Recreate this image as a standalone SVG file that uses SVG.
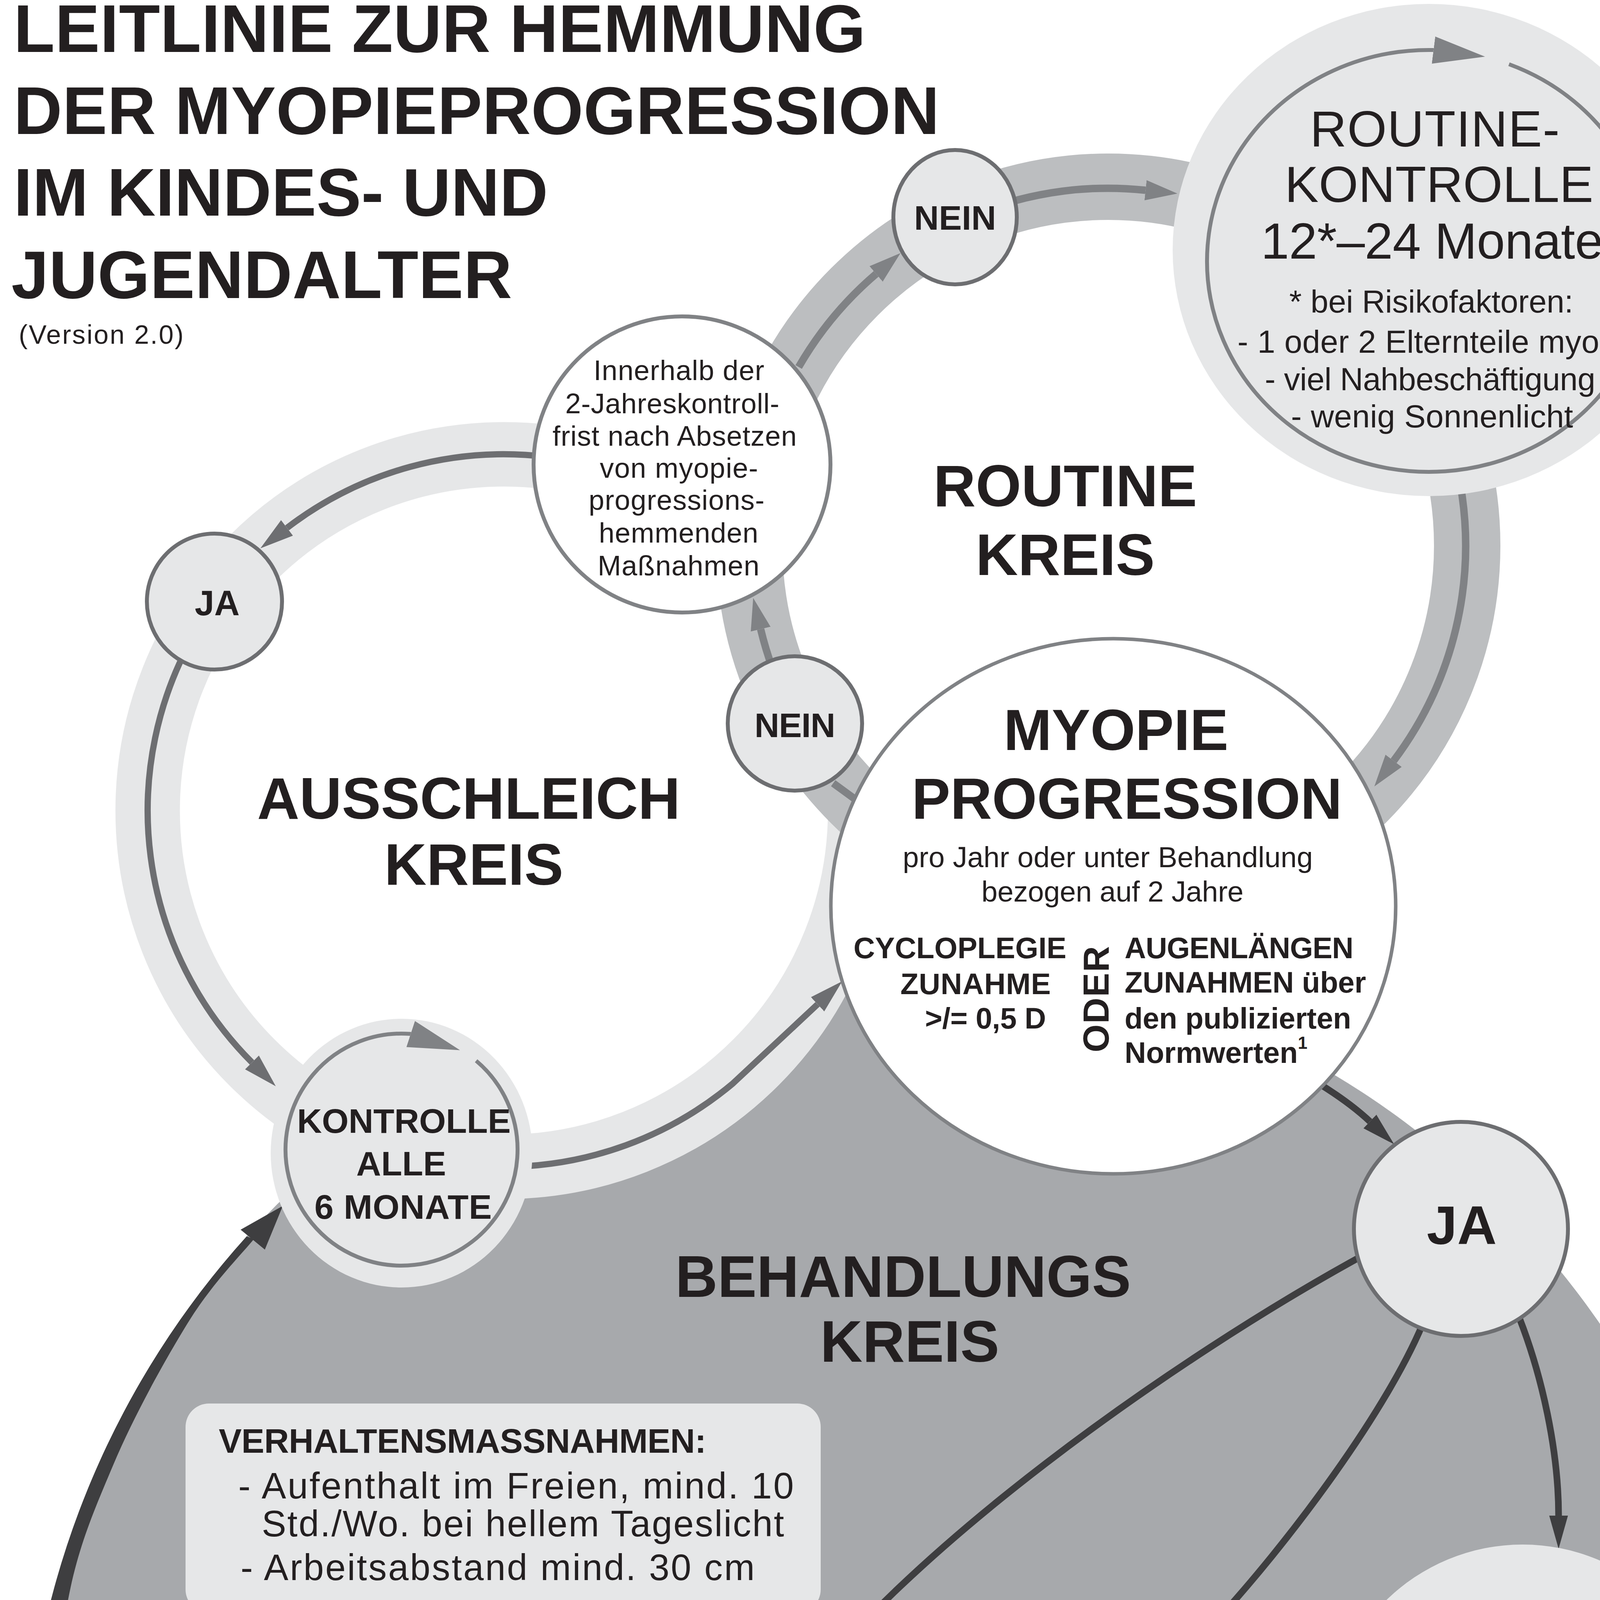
<svg xmlns="http://www.w3.org/2000/svg" width="4507" height="5896" viewBox="0 0 4507 5896">
<defs>
<style>
text{font-family:"Liberation Sans",Arial,Helvetica,sans-serif;fill:#231f20}
.b{font-weight:bold}
.m{text-anchor:middle}
.ttl{font-size:172px;font-weight:bold}
.kr{font-size:150px;font-weight:bold;text-anchor:middle}
.lt{fill:#e6e7e8}
.nd{fill:#e6e7e8;stroke:#6d6e71;stroke-width:10}
.wc{fill:#fff;stroke:#808285;stroke-width:10}
.rl{fill:none;stroke:#808285;stroke-width:19}
.al{fill:none;stroke:#6d6e71;stroke-width:16}
.tl{fill:none;stroke:#3e3e40;stroke-width:17}
.sl{fill:none;stroke:#3e3e40;stroke-width:14}
.il{fill:none;stroke:#808285;stroke-width:10}
.wt{fill:#fff}
</style>
<marker id="hR" markerUnits="userSpaceOnUse" viewBox="0 -30 90 60" markerWidth="90" markerHeight="60" refX="0" refY="0" orient="auto"><path d="M0,-26 L82,0 L0,26 Z" fill="#808285"/></marker>
<marker id="hA" markerUnits="userSpaceOnUse" viewBox="0 -30 90 60" markerWidth="90" markerHeight="60" refX="0" refY="0" orient="auto"><path d="M0,-25 L86,0 L0,25 Z" fill="#6d6e71"/></marker>
<marker id="hK" markerUnits="userSpaceOnUse" viewBox="0 -30 90 60" markerWidth="90" markerHeight="60" refX="0" refY="0" orient="auto"><path d="M0,-24 L85,0 L0,24 Z" fill="#3e3e40"/></marker>
<marker id="hB" markerUnits="userSpaceOnUse" viewBox="0 -40 140 80" markerWidth="140" markerHeight="80" refX="0" refY="0" orient="auto"><path d="M0,-35 L133,0 L0,35 Z" fill="#808285"/></marker>
</defs>

<rect width="4507" height="5896" fill="#fff"/>

<g id="background">
<path d="M0,5760 C150,5830 300,5855 460,5862 L4300,5862 C4420,5850 4480,5790 4507,5735 L4507,5896 L0,5896 Z" fill="#f1f1f2"/>
<circle id="behandlungs-area" cx="2275" cy="4650" r="2215" fill="#a7a9ac"/>
</g>

<g id="rings">
<circle id="ausschleich-ring" cx="1290" cy="2075" r="912" fill="#fff" stroke="#e6e7e8" stroke-width="165"/>
<circle id="routine-ring" cx="2837" cy="1397" r="919" fill="#fff" stroke="#bcbec0" stroke-width="170"/>
</g>

<g id="connectors">
<path class="rl" d="M2584.8,517.4 A915,915 0 0 1 2932.6,487.0" marker-end="url(#hR)"/>
<path class="rl" d="M3738.1,1238.1 A915,915 0 0 1 3567.7,1947.7" marker-end="url(#hR)"/>
<path class="rl" d="M1977.2,1709.9 A915,915 0 0 1 1947.3,1610.6" marker-end="url(#hR)"/>
<path class="rl" d="M2044.6,939.5 A915,915 0 0 1 2242.8,701.2" marker-end="url(#hR)"/>
<path class="rl" d="M2133,2005 L2196,2051"/>
<path class="al" d="M1401.2,1169.8 A912,912 0 0 0 734.8,1351.4" marker-end="url(#hA)"/>
<path class="al" d="M500.2,1619 A912,912 0 0 0 645.1,2719.9" marker-end="url(#hA)"/>
<path class="al" d="M1290,2987 A912,912 0 0 0 1876.2,2773.6 L2093,2571" marker-end="url(#hA)"/>
<path class="tl" d="M3370,2770 Q3455,2822 3507,2871" marker-end="url(#hK)"/>
<path class="tl" d="M3500,3208 C3000,3480 2300,3980 2020,4380" marker-end="url(#hK)"/>
<path class="tl" d="M3650,3370 C3560,3600 3300,3950 3095,4170" marker-end="url(#hK)"/>
<path class="tl" d="M3880,3350 C3950,3520 3990,3720 3990,3880" marker-end="url(#hK)"/>
<path class="sl" d="M1400,5220 L1350,5304" marker-end="url(#hK)"/>
<path class="sl" d="M2570,5130 L2436,5309" marker-end="url(#hK)"/>
<path class="sl" d="M3915,4925 L3767,5298" marker-end="url(#hK)"/>
<path class="sl" d="M1215,5540 L1175,5614" marker-end="url(#hK)"/>
<path class="sl" d="M2265,5540 L2184,5627" marker-end="url(#hK)"/>
<path class="sl" d="M3615,5540 L3535,5627" marker-end="url(#hK)"/>
<path id="behandlung-return" d="M444,5896 A2215,2215 0 0 1 631.5,3165 L650,3172 C622.5,3206.7 545,3283.7 485,3380 C425,3476.3 342.8,3624.8 290,3750 C237.2,3875.2 193.7,3973.5 168,4131 C142.3,4288.5 121.5,4507.2 136,4695 C150.5,4882.8 198.7,5092.3 255,5258 C311.3,5423.7 416.5,5582.7 474,5689 C531.5,5795.3 579,5861.5 600,5896 Z" fill="#3e3e40"/>
<polygon points="724,3087 616,3148 678,3199" fill="#3e3e40"/>
</g>

<g id="nodes">
<g id="routine-kontrolle">
<ellipse cx="3658" cy="640" rx="656" ry="630" class="lt"/>
<path class="il" d="M3863,164.4 A568,540 0 1 1 3668.8,128.1 l0.992,0.127" marker-end="url(#hB)"/>
<text class="m" x="3673" y="375" font-size="130" textLength="639">ROUTINE-</text>
<text class="m" x="3684" y="517" font-size="130" textLength="790">KONTROLLE</text>
<text class="m" x="3666" y="662" font-size="130" textLength="876">12*–24 Monate</text>
<text class="m" x="3664" y="800" font-size="82" textLength="727">* bei Risikofaktoren:</text>
<text class="m" x="3654" y="903" font-size="82" textLength="972">- 1 oder 2 Elternteile myop</text>
<text class="m" x="3661" y="999" font-size="82" textLength="846">- viel Nahbeschäftigung</text>
<text class="m" x="3666" y="1094" font-size="82" textLength="722">- wenig Sonnenlicht</text>
</g>
<g id="nein-oben">
<ellipse cx="2445" cy="556" rx="158" ry="172" class="nd"/>
<text class="b m" x="2445" y="588" font-size="88" textLength="210">NEIN</text>
</g>
<g id="innerhalb">
<ellipse cx="1746" cy="1189" rx="380" ry="379" class="wc"/>
<text class="m" x="1738" y="973" font-size="72" textLength="437">Innerhalb der</text>
<text class="m" x="1721" y="1058" font-size="72" textLength="548">2-Jahreskontroll-</text>
<text class="m" x="1727" y="1141" font-size="72" textLength="625">frist nach Absetzen</text>
<text class="m" x="1738" y="1223" font-size="72" textLength="405">von myopie-</text>
<text class="m" x="1732" y="1305" font-size="72" textLength="450">progressions-</text>
<text class="m" x="1737" y="1389" font-size="72" textLength="408">hemmenden</text>
<text class="m" x="1737" y="1473" font-size="72" textLength="414">Maßnahmen</text>
</g>
<g id="ja-links">
<ellipse cx="549" cy="1540" rx="173" ry="174" class="nd"/>
<text class="b m" x="556" y="1575" font-size="90">JA</text>
</g>
<g id="nein-unten">
<ellipse cx="2035" cy="1852" rx="172" ry="172" class="nd"/>
<text class="b m" x="2035" y="1887" font-size="88" textLength="207">NEIN</text>
</g>
<g id="myopie-progression">
<ellipse cx="2850" cy="2320" rx="723" ry="685" fill="#fff" stroke="#808285" stroke-width="9"/>
<text class="b m" x="2857" y="1920" font-size="148">MYOPIE</text>
<text class="b m" x="2885" y="2096" font-size="148" textLength="1102">PROGRESSION</text>
<text class="m" x="2836" y="2220" font-size="74" textLength="1050">pro Jahr oder unter Behandlung</text>
<text class="m" x="2848" y="2308" font-size="74" textLength="671">bezogen auf 2 Jahre</text>
<text class="b" x="2185" y="2453" font-size="76" textLength="545">CYCLOPLEGIE</text>
<text class="b" x="2305" y="2545" font-size="76" textLength="385">ZUNAHME</text>
<text class="b" x="2368" y="2633" font-size="76" textLength="310">&gt;/= 0,5 D</text>
<text class="b m" font-size="92" transform="translate(2838,2558) rotate(-90)" textLength="272">ODER</text>
<text class="b" x="2879" y="2453" font-size="76" textLength="586">AUGENLÄNGEN</text>
<text class="b" x="2879" y="2541" font-size="76" textLength="618">ZUNAHMEN über</text>
<text class="b" x="2879" y="2633" font-size="76" textLength="580">den publizierten</text>
<text class="b" x="2879" y="2721" font-size="76">Normwerten<tspan font-size="44" dy="-36">1</tspan></text>
</g>
<g id="kontrolle-6-monate">
<ellipse cx="1028" cy="2952" rx="335" ry="344" class="lt"/>
<path class="il" d="M1218.9,2715.5 A297,297 0 1 1 1050.3,2646.8 l0.95,0.31" marker-end="url(#hB)"/>
<text class="b m" x="1034" y="2900" font-size="88" textLength="547">KONTROLLE</text>
<text class="b m" x="1027" y="3009" font-size="88">ALLE</text>
<text class="b m" x="1032" y="3120" font-size="88" textLength="454">6 MONATE</text>
</g>
<g id="ja-rechts">
<ellipse cx="3740" cy="3146" rx="274" ry="274" class="nd"/>
<text class="b m" x="3742" y="3185" font-size="140">JA</text>
</g>
<g id="verhaltensmassnahmen">
<rect x="475" y="3593" width="1626" height="536" rx="60" ry="60" class="lt"/>
<text class="b" x="560" y="3719" font-size="88" textLength="1248">VERHALTENSMASSNAHMEN:</text>
<text x="610" y="3836" font-size="94" textLength="1422" lengthAdjust="spacing">- Aufenthalt im Freien, mind. 10</text>
<text x="670" y="3933" font-size="94" textLength="1337" lengthAdjust="spacing">Std./Wo. bei hellem Tageslicht</text>
<text x="616" y="4045" font-size="94" textLength="1316" lengthAdjust="spacing">- Arbeitsabstand mind. 30 cm</text>
</g>
<g id="brillenglaeser">
<ellipse cx="1630" cy="4810" rx="500" ry="497" class="lt"/>
<text class="m" x="1639" y="4750" font-size="96" textLength="712">Defokussierende</text>
<text x="1375" y="4935" font-size="96">Brillengläser<tspan x="1926" y="4877" font-size="52">2</tspan></text>
</g>
<g id="kontaktlinsen">
<ellipse cx="2818" cy="4697" rx="500" ry="533" class="lt"/>
<text class="m" x="2818" y="4558" font-size="94" textLength="713">Defokussierende</text>
<text x="2547" y="4686" font-size="90">Kontaktlinsen<tspan x="3113" y="4670" font-size="52">4</tspan></text>
<text x="2508" y="4941" font-size="94">Ortho-K-Linsen<tspan x="3182" y="4922" font-size="52">5</tspan></text>
<text class="m" x="2826" y="5056" font-size="80" textLength="697">(-1,00 bis -4,00 dpt)</text>
</g>
<g id="atropin">
<ellipse cx="3898" cy="4453" rx="499" ry="499" class="lt"/>
<text class="m" x="3899" y="4363" font-size="96" textLength="841">Atropin 0,01-0,05 %</text>
<text x="3631" y="4507" font-size="95">Augentropfen<tspan x="4230" y="4474" font-size="52">3</tspan></text>
<text class="m" x="3925" y="4646" font-size="95" textLength="419">1 x täglich</text>
</g>
<g id="abwaegung">
<rect x="1121" y="5377" width="3290" height="175" rx="110" ry="87" fill="#3e3e40"/>
<text class="b wt" x="1796" y="5519" font-size="150" textLength="1968" style="fill:#fff">ABWÄGUNG DER RISIKEN</text>
</g>
<g id="behandlungsplan">
<path d="M470,5689 H4340 C4395,5689 4411,5760 4411,5800 C4411,5840 4400,5880 4385,5896 H470 Z" fill="#3e3e40"/>
<text class="b" x="632" y="5838" font-size="150" textLength="3721" style="fill:#fff">BEHANDLUNGSPLAN (KOMBINATIONEN MÖGLICH)</text>
</g>
</g>

<g id="labels">
<text class="ttl" x="35" y="133" textLength="2181">LEITLINIE ZUR HEMMUNG</text>
<text class="ttl" x="35" y="343" textLength="2370">DER MYOPIEPROGRESSION</text>
<text class="ttl" x="35" y="552" textLength="1368">IM KINDES- UND</text>
<text class="ttl" x="29" y="763" textLength="1282">JUGENDALTER</text>
<text x="48" y="880" font-size="68" textLength="422">(Version 2.0)</text>
<text class="kr" x="2727" y="1296">ROUTINE</text>
<text class="kr" x="2727" y="1472">KREIS</text>
<text class="kr" x="1200" y="2096">AUSSCHLEICH</text>
<text class="kr" x="1213" y="2265">KREIS</text>
<text class="kr" x="2312" y="3320">BEHANDLUNGS</text>
<text class="kr" x="2329" y="3486">KREIS</text>
</g>
</svg>
